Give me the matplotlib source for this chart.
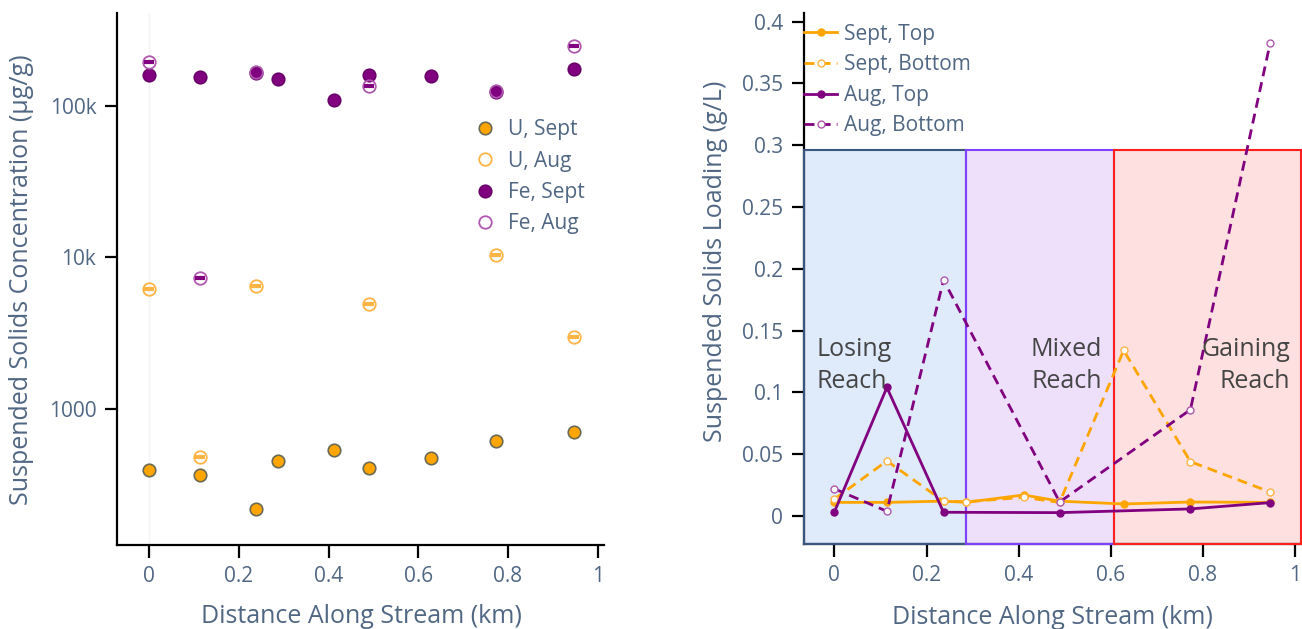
import matplotlib
matplotlib.use("Agg")
import matplotlib.pyplot as plt
from matplotlib.patches import Rectangle
from matplotlib.ticker import FixedLocator, FuncFormatter, NullLocator

plt.rcParams['font.family'] = ['Open Sans', 'DejaVu Sans']

# distancias dos pontos (km)
dist_sept = [0, 0.114, 0.237, 0.286, 0.411, 0.489, 0.628, 0.773, 0.946]
dist_aug = [0, 0.114, 0.237, 0.489, 0.773, 0.946]

# concentracoes (ug/g)
u_sept = [392, 363, 218, 454, 531, 404, 470, 615, 708]
u_aug = [6150, 480, 6440, 4920, 10300, 3000]
fe_sept = [160000, 155000, 165000, 151000, 110000, 160000, 158000, 123000, 175000]
fe_aug = [195000, 7350, 167000, 136000, 126000, 249000]

# carga de solidos (g/L)
sept_top = [0.011, 0.011, 0.012, 0.011, 0.017, 0.012, 0.0097, 0.0113, 0.011]
sept_bottom = [0.0137, 0.0445, 0.012, 0.0115, 0.015, 0.011, 0.134, 0.044, 0.0194]
aug_top = [0.0032, 0.104, 0.003, 0.0027, 0.0057, 0.0108]
aug_bottom = [0.022, 0.0038, 0.191, 0.0113, 0.086, 0.3824]

# trechos do rio
reach_names = ['Losing\nReach', 'Mixed\nReach', 'Gaining\nReach']
reach_edges = [-0.066, 0.286, 0.608, 1.013]
reach_top = 0.296

ORANGE = '#FFA500'
PURPLE = '#800080'
ORANGE_OPEN = '#ffb444'
PURPLE_OPEN = '#b058b0'
TXT = '#506784'

fig = plt.figure(figsize=(13.02, 6.29), dpi=100)
ax1 = fig.add_axes([0.0899, 0.1335, 0.374, 0.8458])
ax2 = fig.add_axes([0.6175, 0.1351, 0.3817, 0.8442])


def estilo(ax):
    for s in ['top', 'right']:
        ax.spines[s].set_visible(False)
    for s in ['left', 'bottom']:
        ax.spines[s].set_linewidth(1.6)
        ax.spines[s].set_color('black')
    ax.tick_params(direction='out', length=9, width=1.6, colors='black',
                   labelcolor=TXT, labelsize=15, pad=6)
    ax.set_xticks([0, 0.2, 0.4, 0.6, 0.8, 1])
    ax.xaxis.set_major_formatter(FuncFormatter(lambda v, p: '%g' % v))


# ---------------- painel esquerdo ----------------
ax1.axvline(0, color='#f3f3f3', lw=1, zorder=0)
ax1.plot(dist_sept, u_sept, 'o', ms=9, mfc=ORANGE, mec='#6b6b55', mew=1.2,
         ls='none', label='U, Sept', zorder=3)
ax1.plot(dist_aug, u_aug, 'o', ms=9, mfc='none', mec=ORANGE_OPEN, mew=1.3,
         ls='none', label='U, Aug', zorder=3)
ax1.plot(dist_aug, u_aug, '_', ms=7, mec=ORANGE_OPEN, mew=3, ls='none', zorder=3)
ax1.plot(dist_sept, fe_sept, 'o', ms=9, mfc=PURPLE, mec='#6a006a', mew=1.2,
         ls='none', label='Fe, Sept', zorder=3)
ax1.plot(dist_aug, fe_aug, 'o', ms=9, mfc='none', mec=PURPLE_OPEN, mew=1.3,
         ls='none', label='Fe, Aug', zorder=4)
ax1.plot(dist_aug, fe_aug, '_', ms=7, mec=PURPLE, mew=3, ls='none', zorder=4)

ax1.set_yscale('log')
ax1.set_xlim(-0.072, 1.014)
ax1.set_ylim(126, 411000)
estilo(ax1)
ax1.yaxis.set_major_locator(FixedLocator([1000, 10000, 100000]))
ax1.yaxis.set_major_formatter(FuncFormatter(lambda v, p: {1000: '1000', 10000: '10k', 100000: '100k'}.get(int(round(v)), '')))
ax1.yaxis.set_minor_locator(NullLocator())
ax1.set_xlabel('Distance Along Stream (km)', fontsize=18, color=TXT)
ax1.set_ylabel('Suspended Solids Concentration (µg/g)', fontsize=18, color=TXT)
ax1.xaxis.set_label_coords(0.502, -0.111)
ax1.yaxis.set_label_coords(-0.170, 0.498)
leg1 = ax1.legend(loc='upper left', bbox_to_anchor=(0.735, 0.80), frameon=False,
                  fontsize=15, labelcolor=TXT, handletextpad=0.6,
                  labelspacing=0.49, handlelength=1.0, borderpad=0, borderaxespad=0)

# ---------------- painel direito ----------------
fills = ['#dfebfb', '#eee0fb', '#fde0df']
edges = ['#3a5680', '#8040ff', '#ff2020']
for i in range(3):
    x0, x1 = reach_edges[i], reach_edges[i + 1]
    ax2.add_patch(Rectangle((x0, -0.0227), x1 - x0, reach_top + 0.0227,
                            facecolor=fills[i], edgecolor='none', zorder=0.5))
    ax2.add_patch(Rectangle((x0, -0.0227), x1 - x0, reach_top + 0.0227,
                            facecolor='none', edgecolor=edges[i], lw=1.5,
                            zorder=2.6, clip_on=False))

ax2.plot(dist_sept, sept_top, '-o', color=ORANGE, lw=2, ms=5, label='Sept, Top', zorder=4)
ax2.plot(dist_sept, sept_bottom, '--o', color=ORANGE, lw=2, ms=5, mfc='white',
         mec=ORANGE_OPEN, mew=1, dashes=(3.6, 2.2), label='Sept, Bottom', zorder=4)
ax2.plot(dist_aug, aug_top, '-o', color=PURPLE, lw=2, ms=5, label='Aug, Top', zorder=4)
ax2.plot(dist_aug, aug_bottom, '--o', color=PURPLE, lw=2, ms=5, mfc='white',
         mec=PURPLE_OPEN, mew=1, dashes=(3.6, 2.2), label='Aug, Bottom', zorder=4)

ann = dict(va='top', fontsize=18, color='#454545', linespacing=1.38, zorder=5)
ax2.text(-0.038, 0.145, reach_names[0], ha='left', **ann)
ax2.text(0.581, 0.145, reach_names[1], ha='right', multialignment='right', **ann)
ax2.text(0.99, 0.145, reach_names[2], ha='right', multialignment='right', **ann)

ax2.set_xlim(-0.066, 1.013)
ax2.set_ylim(-0.0227, 0.407)
estilo(ax2)
ax2.set_yticks([0, 0.05, 0.1, 0.15, 0.2, 0.25, 0.3, 0.35, 0.4])
ax2.yaxis.set_major_formatter(FuncFormatter(lambda v, p: '%g' % round(v, 3)))
ax2.set_xlabel('Distance Along Stream (km)', fontsize=18, color=TXT)
ax2.set_ylabel('Suspended Solids Loading (g/L)', fontsize=18, color=TXT)
ax2.xaxis.set_label_coords(0.5, -0.115)
ax2.yaxis.set_label_coords(-0.153, 0.533)
leg2 = ax2.legend(loc='upper left', bbox_to_anchor=(0.0, 0.98), frameon=False,
                  fontsize=15, labelcolor=TXT, handletextpad=0.3,
                  labelspacing=0.46, handlelength=1.6, borderpad=0, borderaxespad=0)
leg2.set_zorder(6)

fig.savefig('out.png', dpi=100)
